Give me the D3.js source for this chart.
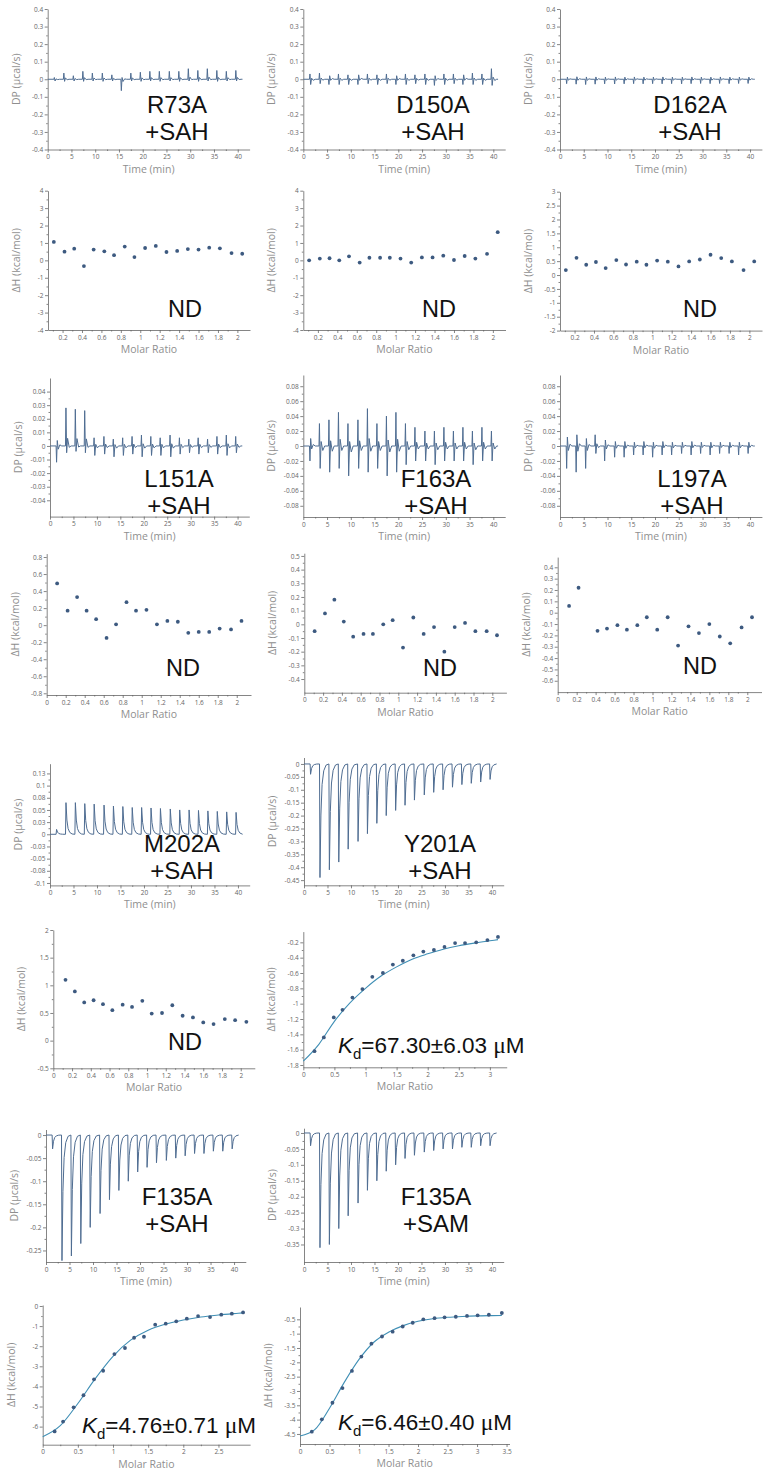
<!DOCTYPE html>
<html>
<head>
<meta charset="utf-8">
<script src="https://d3js.org/d3.v7.min.js"></script>
<style>
  body { margin: 0; background: #fff; }
  svg { display: block; }
  .tick text { font-family: "Open Sans", sans-serif; font-size: 6.5px; fill: #666; }
  .tick line, .domain { stroke: #666; stroke-width: 0.8px; }
  .axis-title { font-family: "Open Sans", sans-serif; font-size: 10.5px; fill: #8f8f8f; }
  .big { font-family: "Liberation Sans", Arial, sans-serif; font-size: 24px; fill: #111; }
  .kd { font-family: "Liberation Sans", Arial, sans-serif; font-size: 22.5px; fill: #111; }
  .nd { font-family: "Liberation Sans", Arial, sans-serif; font-size: 23.5px; fill: #111; }
</style>
</head>
<body>
<div id="chart"></div>
<script>
// injection times (min), shared by every thermogram
const injTimes = [1.3, 3.3, 5.3, 7.3, 9.3, 11.4, 13.4, 15.4, 17.4, 19.4, 21.4, 23.4, 25.5, 27.5, 29.5, 31.5, 33.5, 35.5, 37.5, 39.5];

// DP peak heights per injection (µcal/s), and the small opposite kick after each
const r73aPeaks = [0.01, 0.035, 0.02, 0.045, 0.035, 0.035, 0.025, -0.065, 0.035, 0.04, 0.045, 0.045, 0.045, 0.045, 0.06, 0.05, 0.06, 0.05, 0.045, 0.05];
const r73aDips  = [-0.01, -0.012, -0.01, -0.012, -0.01, -0.012, -0.01, 0.01, -0.01, -0.012, -0.01, -0.012, -0.01, -0.012, -0.01, -0.012, -0.01, -0.012, -0.01, -0.01];
const d150aPeaks = [0.03, 0.035, -0.03, 0.03, 0.025, -0.03, 0.03, 0.025, 0.03, -0.03, 0.03, 0.025, 0.03, -0.035, 0.03, 0.03, -0.03, 0.035, 0.03, 0.06];
const d150aDips  = [-0.03, -0.025, 0.02, -0.03, -0.03, 0.025, -0.025, -0.03, -0.025, 0.02, -0.03, -0.025, -0.03, 0.02, -0.03, -0.025, 0.025, -0.03, -0.03, -0.035];
const d162aPeaks = [-0.025, -0.028, -0.03, -0.028, -0.026, -0.027, -0.026, -0.025, -0.026, -0.025, -0.026, -0.025, -0.026, -0.025, -0.024, -0.025, -0.024, -0.025, -0.024, -0.024];
const d162aDips  = [0.012, 0.014, 0.013, 0.013, 0.012, 0.013, 0.012, 0.013, 0.012, 0.012, 0.013, 0.012, 0.012, 0.013, 0.012, 0.012, 0.013, 0.012, 0.012, 0.012];
const l151aPeaks = [-0.012, 0.028, 0.027, 0.026, 0.006, 0.007, 0.005, 0.006, 0.007, 0.008, 0.007, 0.006, 0.008, 0.006, 0.005, 0.006, 0.005, 0.007, 0.008, 0.007];
const l151aDips  = [0.004, -0.005, -0.004, -0.005, -0.007, -0.006, -0.008, -0.007, -0.006, -0.008, -0.007, -0.007, -0.008, -0.006, -0.005, -0.006, -0.005, -0.006, -0.007, -0.005];
const f163aPeaks = [-0.02, 0.03, 0.035, 0.045, 0.03, 0.035, 0.05, 0.03, 0.04, 0.045, 0.03, 0.025, 0.02, 0.02, 0.025, 0.02, 0.025, 0.02, 0.025, 0.02];
const f163aDips  = [0.01, -0.03, -0.035, -0.03, -0.04, -0.03, -0.035, -0.03, -0.04, -0.035, -0.025, -0.02, -0.02, -0.025, -0.02, -0.02, -0.02, -0.025, -0.02, -0.02];
const l197aPeaks = [-0.03, -0.035, -0.03, 0.015, -0.02, -0.015, -0.015, -0.012, -0.012, -0.015, -0.012, -0.012, -0.01, -0.012, -0.01, -0.012, -0.01, -0.01, -0.012, -0.01];
const l197aDips  = [0.012, 0.015, 0.01, -0.01, 0.008, 0.006, 0.006, 0.005, 0.006, 0.005, 0.006, 0.005, 0.005, 0.006, 0.005, 0.005, 0.005, 0.005, 0.005, 0.005];
const m202aPeaks = [0.01, 0.065, 0.065, 0.063, 0.062, 0.06, 0.058, 0.057, 0.055, 0.055, 0.054, 0.053, 0.052, 0.05, 0.05, 0.049, 0.048, 0.047, 0.046, 0.045];
const y201aPeaks = [-0.04, -0.44, -0.41, -0.38, -0.33, -0.3, -0.27, -0.23, -0.2, -0.18, -0.16, -0.14, -0.12, -0.11, -0.1, -0.09, -0.08, -0.075, -0.07, -0.06];
const f135aSahPeaks = [-0.03, -0.272, -0.262, -0.235, -0.2, -0.17, -0.14, -0.12, -0.1, -0.08, -0.07, -0.06, -0.055, -0.05, -0.045, -0.04, -0.04, -0.035, -0.035, -0.03];
const f135aSamPeaks = [-0.04, -0.36, -0.35, -0.3, -0.26, -0.22, -0.18, -0.15, -0.12, -0.1, -0.08, -0.07, -0.06, -0.055, -0.05, -0.05, -0.045, -0.045, -0.04, -0.04];

// integrated heats
const ratioND = [0.11, 0.22, 0.32, 0.42, 0.52, 0.63, 0.73, 0.84, 0.94, 1.05, 1.16, 1.27, 1.38, 1.49, 1.6, 1.71, 1.82, 1.94, 2.05];
const r73aDH  = [1.06, 0.50, 0.67, -0.33, 0.62, 0.52, 0.30, 0.79, 0.19, 0.71, 0.83, 0.48, 0.54, 0.65, 0.62, 0.73, 0.69, 0.42, 0.38];
const d150aDH = [0.0, 0.1, 0.12, 0.0, 0.23, -0.13, 0.15, 0.15, 0.15, 0.1, -0.13, 0.17, 0.17, 0.27, 0.02, 0.25, 0.1, 0.37, 1.62];
const d162aDH = [0.18, 0.62, 0.37, 0.47, 0.25, 0.54, 0.38, 0.48, 0.37, 0.52, 0.48, 0.31, 0.49, 0.56, 0.73, 0.61, 0.49, 0.18, 0.49];
const l151aDH = [0.49, 0.17, 0.33, 0.17, 0.07, -0.15, 0.01, 0.27, 0.17, 0.18, 0.01, 0.05, 0.04, -0.09, -0.08, -0.08, -0.04, -0.05, 0.05];
const f163aDH = [-0.05, 0.08, 0.18, 0.02, -0.09, -0.07, -0.07, 0.0, 0.03, -0.17, 0.05, -0.07, -0.02, -0.2, -0.02, 0.01, -0.05, -0.05, -0.08];
const l197aRatio = [0.12, 0.22, 0.42, 0.52, 0.63, 0.73, 0.84, 0.94, 1.05, 1.16, 1.27, 1.38, 1.49, 1.6, 1.71, 1.82, 1.94, 2.05];
const l197aDH = [0.06, 0.22, -0.16, -0.14, -0.11, -0.15, -0.11, -0.04, -0.15, -0.04, -0.29, -0.12, -0.18, -0.1, -0.21, -0.27, -0.13, -0.04];
const m202aRatio = [0.13, 0.23, 0.33, 0.43, 0.53, 0.63, 0.74, 0.84, 0.95, 1.05, 1.16, 1.27, 1.38, 1.49, 1.6, 1.71, 1.83, 1.94, 2.06];
const m202aDH = [1.1, 0.89, 0.69, 0.73, 0.66, 0.55, 0.65, 0.61, 0.72, 0.49, 0.5, 0.64, 0.45, 0.42, 0.33, 0.3, 0.39, 0.37, 0.34];

const y201aRatio = [0.18, 0.33, 0.49, 0.63, 0.79, 0.95, 1.11, 1.28, 1.44, 1.6, 1.77, 1.93, 2.1, 2.27, 2.44, 2.6, 2.78, 2.96, 3.13];
const y201aDH = [-1.62, -1.44, -1.18, -1.08, -0.92, -0.81, -0.65, -0.6, -0.49, -0.44, -0.37, -0.32, -0.3, -0.26, -0.21, -0.21, -0.2, -0.17, -0.13];
const y201aFitX = [0, 0.25, 0.5, 0.75, 1.0, 1.25, 1.5, 1.75, 2.0, 2.25, 2.5, 2.75, 3.0, 3.13];
const y201aFitY = [-1.75, -1.53, -1.23, -0.99, -0.8, -0.64, -0.52, -0.42, -0.35, -0.29, -0.245, -0.21, -0.18, -0.165];

const f135aSahRatio = [0.17, 0.29, 0.44, 0.58, 0.73, 0.86, 1.02, 1.17, 1.3, 1.44, 1.6, 1.75, 1.9, 2.05, 2.21, 2.38, 2.54, 2.69, 2.85];
const f135aSahDH = [-6.24, -5.75, -5.04, -4.44, -3.65, -3.22, -2.39, -2.09, -1.58, -1.53, -0.93, -0.88, -0.76, -0.63, -0.5, -0.55, -0.43, -0.38, -0.32];
const f135aSahFitX = [0, 0.25, 0.5, 0.75, 1.0, 1.25, 1.5, 1.75, 2.0, 2.25, 2.5, 2.75, 2.85];
const f135aSahFitY = [-6.5, -5.95, -4.85, -3.6, -2.5, -1.7, -1.2, -0.9, -0.7, -0.55, -0.45, -0.37, -0.34];

const f135aSamRatio = [0.2, 0.37, 0.55, 0.72, 0.88, 1.04, 1.21, 1.39, 1.57, 1.74, 1.91, 2.09, 2.28, 2.45, 2.64, 2.83, 3.01, 3.2, 3.42];
const f135aSamDH = [-4.42, -3.99, -3.41, -2.9, -2.3, -1.8, -1.35, -1.1, -0.93, -0.75, -0.62, -0.5, -0.46, -0.43, -0.41, -0.38, -0.36, -0.34, -0.28];
const f135aSamFitX = [0, 0.25, 0.5, 0.75, 1.0, 1.25, 1.5, 1.75, 2.0, 2.25, 2.5, 2.75, 3.0, 3.25, 3.42];
const f135aSamFitY = [-4.57, -4.35, -3.6, -2.7, -1.9, -1.3, -0.95, -0.72, -0.57, -0.48, -0.43, -0.4, -0.38, -0.37, -0.365];

// tick values and labels
const timeTicks = [0, 5, 10, 15, 20, 25, 30, 35, 40];
const ratioTicks2 = [0, 0.2, 0.4, 0.6, 0.8, 1, 1.2, 1.4, 1.6, 1.8, 2];
const ratioTicksHalf3 = [0, 0.5, 1, 1.5, 2, 2.5, 3];
const ratioTicksHalf25 = [0, 0.5, 1, 1.5, 2, 2.5];
const ratioTicksHalf35 = [0, 0.5, 1, 1.5, 2, 2.5, 3, 3.5];
const dpTicks04 = [0.4, 0.3, 0.2, 0.1, 0, -0.1, -0.2, -0.3, -0.4];
const dpTicks004 = [0.04, 0.03, 0.02, 0.01, 0, -0.01, -0.02, -0.03, -0.04];
const dpTicks008 = [0.08, 0.06, 0.04, 0.02, 0, -0.02, -0.04, -0.06, -0.08];
const m202aTicks = [0.125, 0.1, 0.075, 0.05, 0.025, 0, -0.025, -0.05, -0.075, -0.1];
const m202aTickLabels = ["0.13", "0.1", "0.08", "0.05", "0.03", "0", "-0.03", "-0.05", "-0.08", "-0.1"];
const y201aDpTicks = [0, -0.05, -0.1, -0.15, -0.2, -0.25, -0.3, -0.35, -0.4, -0.45];
const f135aSahDpTicks = [0, -0.05, -0.1, -0.15, -0.2, -0.25];
const f135aSamDpTicks = [0, -0.05, -0.1, -0.15, -0.2, -0.25, -0.3, -0.35];
const dhTicks4 = [4, 3, 2, 1, 0, -1, -2, -3, -4];
const dhTicks3 = [3, 2.5, 2, 1.5, 1, 0.5, 0, -0.5, -1, -1.5, -2];
const dhTicks08 = [0.8, 0.6, 0.4, 0.2, 0, -0.2, -0.4, -0.6, -0.8];
const dhTicks05 = [0.5, 0.4, 0.3, 0.2, 0.1, 0, -0.1, -0.2, -0.3, -0.4];
const dhTicks04 = [0.4, 0.3, 0.2, 0.1, 0, -0.1, -0.2, -0.3, -0.4, -0.5, -0.6];
const dhTicksM202 = [2, 1.5, 1, 0.5, 0, -0.5];
const dhTicksY201 = [-0.2, -0.4, -0.6, -0.8, -1, -1.2, -1.4, -1.6, -1.8];
const dhTicksSah = [0, -1, -2, -3, -4, -5, -6];
const dhTicksSam = [-0.5, -1, -1.5, -2, -2.5, -3, -3.5, -4, -4.5];

const W = 764, H = 1470;
const svg = d3.select("#chart").append("svg").attr("width", W).attr("height", H);

const fmt = v => String(+v.toFixed(2));
const mids = t => { const s = t.slice().sort((a, b) => a - b); const m = []; for (let i = 0; i < s.length - 1; i++) m.push((s[i] + s[i + 1]) / 2); return m; };

function frame(p) {
  const x = d3.scaleLinear().domain(p.xd).range(p.xr);
  const y = d3.scaleLinear().domain(p.yd).range(p.yr);
  const g = svg.append("g");
  const yb = p.yr[0];
  const xa = g.append("g").attr("transform", `translate(0,${yb})`);
  xa.call(d3.axisBottom(x).tickValues(p.xt.filter(v => v >= p.xd[0] - 1e-9)).tickSize(3).tickSizeOuter(0).tickPadding(2).tickFormat(fmt));
  xa.append("g").call(d3.axisBottom(x).tickValues(mids(p.xt).filter(v => v >= p.xd[0] && v <= p.xd[1])).tickSize(1.5).tickFormat(""))
    .select(".domain").remove();
  const ya = g.append("g").attr("transform", `translate(${p.xr[0]},0)`);
  const ylab = p.ytl ? (v => p.ytl[p.yt.indexOf(v)]) : fmt;
  ya.call(d3.axisLeft(y).tickValues(p.yt).tickSize(3).tickSizeOuter(0).tickPadding(1.5).tickFormat(ylab));
  ya.append("g").call(d3.axisLeft(y).tickValues(mids(p.yt).filter(v => v >= p.yd[0] && v <= p.yd[1])).tickSize(1.5).tickFormat(""))
    .select(".domain").remove();
  g.append("text").attr("class", "axis-title").attr("text-anchor", "middle")
    .attr("x", (p.xr[0] + p.xr[1]) / 2).attr("y", yb + 23).text(p.xlabel);
  g.append("text").attr("class", "axis-title").attr("text-anchor", "middle")
    .attr("transform", `translate(${p.xr[0] - 28},${(p.yr[0] + p.yr[1]) / 2}) rotate(-90)`).text(p.ylabel);
  return { g, x, y };
}

function label(lines, cx, by, step) {
  lines.forEach((t, i) => svg.append("text").attr("class", "big").attr("text-anchor", "middle")
    .attr("x", cx).attr("y", by + i * step).text(t));
}

function dpPanel(p) {
  const { g, x, y } = frame(Object.assign({ xd: [0, 42.5], xt: timeTicks, xlabel: "Time (min)", ylabel: "DP (\u00b5cal/s)" }, p));
  const pts = [[0, 0]];
  injTimes.forEach((t, i) => {
    const pk = p.peaks[i], dp = p.dips ? p.dips[i] : 0;
    if (p.dips) {
      pts.push([t, 0], [t + 0.1, pk], [t + 0.25, dp], [t + 0.45, pk * 0.2], [t + 0.8, dp * 0.2], [t + 1.2, 0]);
    } else {
      pts.push([t, 0], [t + 0.1, pk], [t + 0.3, pk * 0.45], [t + 0.55, pk * 0.18], [t + 0.9, pk * 0.06], [t + 1.4, pk * 0.01]);
    }
  });
  pts.push([41, 0]);
  g.append("path").datum(pts).attr("fill", "none").attr("stroke", "#4f6d92").attr("stroke-width", 1)
    .attr("d", d3.line().x(d => x(d[0])).y(d => y(d[1])));
  label(p.title, p.tx, p.ty, 27);
}

function dhPanel(p) {
  const { g, x, y } = frame(Object.assign({ xlabel: "Molar Ratio", ylabel: "\u0394H (kcal/mol)" }, p));
  if (p.fitX) {
    g.append("path").datum(p.fitX.map((v, i) => [v, p.fitY[i]])).attr("fill", "none")
      .attr("stroke", "#3f8fb5").attr("stroke-width", 1.1)
      .attr("d", d3.line().curve(d3.curveMonotoneX).x(d => x(d[0])).y(d => y(d[1])));
  }
  g.selectAll("circle.pt").data(p.ratio.map((v, i) => [v, p.dh[i]])).join("circle")
    .attr("cx", d => x(d[0])).attr("cy", d => y(d[1])).attr("r", 1.9).attr("fill", "#3d5a80");
  if (p.nd) {
    svg.append("text").attr("class", "nd").attr("text-anchor", "middle").attr("x", p.nd[0]).attr("y", p.nd[1]).text("ND");
  }
  if (p.kd) {
    const t = svg.append("text").attr("class", "kd").attr("x", p.kd[0]).attr("y", p.kd[1]);
    t.append("tspan").attr("font-style", "italic").text("K");
    t.append("tspan").attr("font-size", "15px").attr("dy", 6).text("d");
    t.append("tspan").attr("dy", -6).text(p.kd[2]);
    t.append("tspan").attr("font-family", "'Liberation Serif', serif").attr("font-size", "23.5px").text("\u03bc");
    t.append("tspan").text("M");
  }
}

// row 1 thermograms
dpPanel({ peaks: r73aPeaks, dips: r73aDips, xr: [47.7, 249.6], yd: [-0.4, 0.4], yr: [149.5, 9], yt: dpTicks04, title: ["R73A", "+SAH"], tx: 177, ty: 113 });
dpPanel({ peaks: d150aPeaks, dips: d150aDips, xr: [303.3, 505.2], yd: [-0.4, 0.4], yr: [149.5, 9], yt: dpTicks04, title: ["D150A", "+SAH"], tx: 433, ty: 113 });
dpPanel({ peaks: d162aPeaks, dips: d162aDips, xr: [560, 761.9], yd: [-0.4, 0.4], yr: [149.5, 9], yt: dpTicks04, title: ["D162A", "+SAH"], tx: 690, ty: 113 });
// row 2 heats
dhPanel({ ratio: ratioND, dh: r73aDH, xd: [0.05, 2.13], xr: [48, 250], xt: ratioTicks2, yd: [-4, 4], yr: [330, 190.7], yt: dhTicks4, nd: [185, 317] });
dhPanel({ ratio: ratioND, dh: d150aDH, xd: [0.05, 2.13], xr: [303.3, 505.5], xt: ratioTicks2, yd: [-4, 4], yr: [330, 190.7], yt: dhTicks4, nd: [439, 317] });
dhPanel({ ratio: ratioND, dh: d162aDH, xd: [0.05, 2.13], xr: [560, 762], xt: ratioTicks2, yd: [-2, 3], yr: [330.6, 191.7], yt: dhTicks3, nd: [700, 317] });
// row 3 thermograms
dpPanel({ peaks: l151aPeaks, dips: l151aDips, xr: [50, 249.3], yd: [-0.052, 0.05], yr: [516.6, 378], yt: dpTicks004, title: ["L151A", "+SAH"], tx: 179, ty: 487 });
dpPanel({ peaks: f163aPeaks, dips: f163aDips, xr: [303.3, 505.2], yd: [-0.095, 0.095], yr: [517, 375], yt: dpTicks008, title: ["F163A", "+SAH"], tx: 436, ty: 487 });
dpPanel({ peaks: l197aPeaks, dips: l197aDips, xr: [560, 761.9], yd: [-0.095, 0.095], yr: [517, 375], yt: dpTicks008, title: ["L197A", "+SAH"], tx: 692, ty: 487 });
// row 4 heats
dhPanel({ ratio: ratioND, dh: l151aDH, xd: [0, 2.15], xr: [46.7, 251], xt: ratioTicks2, yd: [-0.82, 0.84], yr: [695, 553.6], yt: dhTicks08, nd: [183, 676] });
dhPanel({ ratio: ratioND, dh: f163aDH, xd: [0, 2.15], xr: [304.3, 506.4], xt: ratioTicks2, yd: [-0.5, 0.52], yr: [692.7, 553.2], yt: dhTicks05, nd: [440, 676] });
dhPanel({ ratio: l197aRatio, dh: l197aDH, xd: [0, 2.15], xr: [557.7, 761.5], xt: ratioTicks2, yd: [-0.7, 0.49], yr: [692.1, 557.1], yt: dhTicks04, nd: [700, 674] });
// row 5 thermograms
dpPanel({ peaks: m202aPeaks, xr: [50, 249.7], yd: [-0.105, 0.145], yr: [885.4, 763.7], yt: m202aTicks, ytl: m202aTickLabels, title: ["M202A", "+SAH"], tx: 182, ty: 852 });
dpPanel({ peaks: y201aPeaks, xr: [304, 503.7], yd: [-0.47, 0.025], yr: [885.3, 757.5], yt: y201aDpTicks, title: ["Y201A", "+SAH"], tx: 440, ty: 852 });
// row 6 heats
dhPanel({ ratio: m202aRatio, dh: m202aDH, xd: [0, 2.15], xr: [53.3, 254.8], xt: ratioTicks2, yd: [-0.5, 2], yr: [1068.3, 930], yt: dhTicksM202, nd: [185, 1050] });
dhPanel({ ratio: y201aRatio, dh: y201aDH, fitX: y201aFitX, fitY: y201aFitY, xd: [0, 3.27], xr: [303.3, 506.7], xt: ratioTicksHalf3, yd: [-1.83, -0.06], yr: [1067.3, 931.6], yt: dhTicksY201, kd: [338, 1053, "=67.30\u00b16.03 "] });
// row 7 thermograms
dpPanel({ peaks: f135aSahPeaks, xr: [46, 245.8], yd: [-0.275, 0.012], yr: [1262, 1129.5], yt: f135aSahDpTicks, title: ["F135A", "+SAH"], tx: 177, ty: 1205 });
dpPanel({ peaks: f135aSamPeaks, xr: [304, 503.7], yd: [-0.405, 0.015], yr: [1262, 1128.2], yt: f135aSamDpTicks, title: ["F135A", "+SAM"], tx: 436, ty: 1205 });
// row 8 heats
dhPanel({ ratio: f135aSahRatio, dh: f135aSahDH, fitX: f135aSahFitX, fitY: f135aSahFitY, xd: [0, 2.95], xr: [42.7, 250.1], xt: ratioTicksHalf25, yd: [-6.9, 0.05], yr: [1444.7, 1305], yt: dhTicksSah, kd: [82, 1433, "=4.76\u00b10.71 "] });
dhPanel({ ratio: f135aSamRatio, dh: f135aSamDH, fitX: f135aSamFitX, fitY: f135aSamFitY, xd: [0, 3.55], xr: [300, 509.5], xt: ratioTicksHalf35, yd: [-4.85, -0.07], yr: [1444, 1307], yt: dhTicksSam, kd: [338, 1430, "=6.46\u00b10.40 "] });
</script>
</body>
</html>
